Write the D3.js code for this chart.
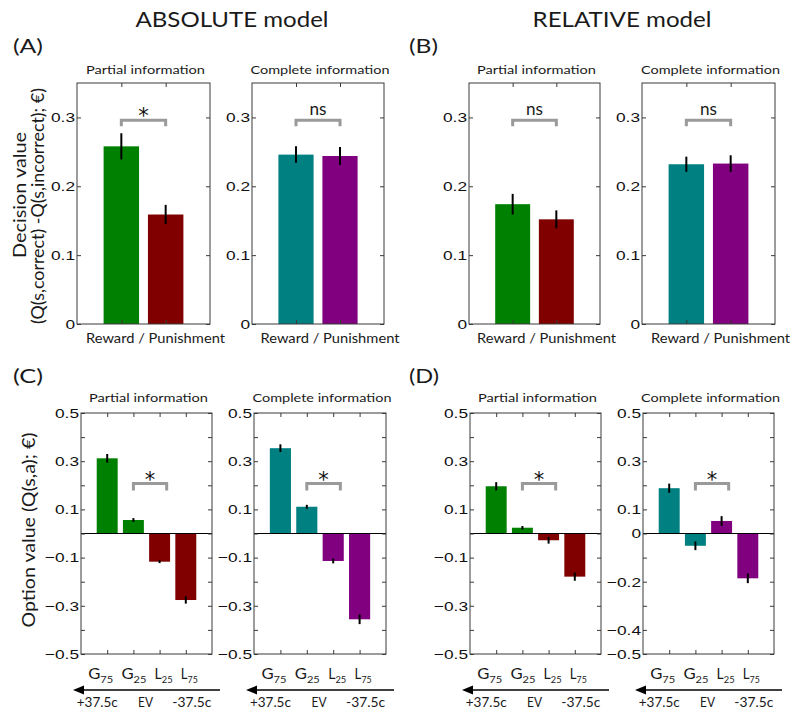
<!DOCTYPE html>
<html><head><meta charset="utf-8">
<script src="https://cdn.jsdelivr.net/npm/d3@7"></script>
<style>body{margin:0;background:#fff} svg{display:block}</style>
</head><body>
<script>
// ---------------- data ----------------
const dvCategories = ["Reward", "Punishment"];
const optCategories = [["G","75"],["G","25"],["L","25"],["L","75"]];
const evLabels = ["+37.5c", "EV", "-37.5c"];
const modelTitles = ["ABSOLUTE model", "RELATIVE model"];
const panelTitles = ["Partial information", "Complete information"];
const panelLetters = ["(A)", "(B)", "(C)", "(D)"];
const dvXLabel = "Reward / Punishment";
const dvYLabel = ["Decision value", "(Q(s,correct) -Q(s,incorrect); \u20ac)"];
const optYLabel = "Option value (Q(s,a); \u20ac)";

const absPartialDV = [0.258, 0.159];
const absPartialDVErr = [0.019, 0.014];
const absCompleteDV = [0.246, 0.244];
const absCompleteDVErr = [0.012, 0.013];
const relPartialDV = [0.174, 0.152];
const relPartialDVErr = [0.015, 0.013];
const relCompleteDV = [0.232, 0.233];
const relCompleteDVErr = [0.011, 0.012];

const absPartialOpt = [0.312, 0.056, -0.117, -0.276];
const absPartialOptErr = [0.018, 0.008, 0.006, 0.015];
const absCompleteOpt = [0.354, 0.111, -0.114, -0.356];
const absCompleteOptErr = [0.016, 0.008, 0.010, 0.020];
const relPartialOpt = [0.196, 0.024, -0.028, -0.179];
const relPartialOptErr = [0.017, 0.007, 0.014, 0.017];
const relCompleteOpt = [0.188, -0.051, 0.052, -0.186];
const relCompleteOptErr = [0.019, 0.018, 0.020, 0.020];

const dvTicks = [0, 0.1, 0.2, 0.3];
const optTicks = [-0.5, -0.4, -0.3, -0.2, -0.1, 0, 0.1, 0.2, 0.3, 0.4, 0.5];
const optTickLabelsStd = ["0.5", "0.3", "0.1", "-0.1", "-0.3", "-0.5"];
const optTickLabelsAlt = ["0.5", "0.3", "0.1", "0", "-0.2", "-0.4", "-0.5"];
const sigTop = ["*", "ns", "ns", "ns"];
const sigBottom = ["*", "*", "*", "*"];

// ---------------- styles ----------------
const partialColors = ["#008000", "#800000"];
const partialColorsOpt = ["#008000", "#008000", "#800000", "#800000"];
const completeColors = ["#008080", "#800080"];
const completeColorsOpt = ["#008080", "#008080", "#800080", "#800080"];
const TXT = "Lato, 'Open Sans', sans-serif";
const NUM = "'Liberation Sans', Arial, sans-serif";
const FRAME = "#3a3a3a";
const STRETCH = 1.28;
const catWidths = [25, 25, 18, 17];
const catStartOffsets = [-19, -12, -5, -5];

const svg = d3.select("body").append("svg").attr("width", 800).attr("height", 717)
  .style("background", "#fff");

function txt(str, x, y, fs, len, anchor = "middle", rot = false) {
  const t = svg.append("text")
    .attr("transform", rot ? `translate(${x},${y}) rotate(-90)` : `translate(${x},${y})`)
    .attr("text-anchor", anchor)
    .style("font-family", TXT).style("font-size", fs + "px")
    .attr("fill", "#1a1a1a")
    .text(str);
  if (len) t.attr("textLength", len).attr("lengthAdjust", "spacingAndGlyphs");
  return t;
}

function fmt(d) { return String(Math.round(d * 10) / 10); }

function panel(p) {
  const g = svg.append("g");
  const x = d3.scaleLinear().domain(p.xDomain).range([p.x0, p.x1]);
  const y = d3.scaleLinear().domain(p.yDomain).range([p.y1, p.y0]);
  const pos = p.values.map((d, i) => i + 1);
  const bw = x(0.8) - x(0);

  g.selectAll("rect.bar").data(p.values).join("rect").attr("class", "bar")
    .attr("x", (d, i) => x(i + 1) - bw / 2).attr("width", bw)
    .attr("y", d => Math.min(y(d), y(0))).attr("height", d => Math.abs(y(d) - y(0)))
    .attr("fill", (d, i) => p.colors[i]);

  g.selectAll("line.err").data(p.values).join("line").attr("class", "err")
    .attr("x1", (d, i) => x(i + 1)).attr("x2", (d, i) => x(i + 1))
    .attr("y1", (d, i) => y(d - p.errors[i])).attr("y2", (d, i) => y(d + p.errors[i]))
    .attr("stroke", "#000").attr("stroke-width", 2);

  if (p.zero) {
    g.append("line").attr("x1", p.x0).attr("x2", p.x1).attr("y1", y(0)).attr("y2", y(0))
      .attr("stroke", "#000").attr("stroke-width", 1);
  }

  g.append("rect").attr("x", p.x0).attr("y", p.y0).attr("width", p.x1 - p.x0).attr("height", p.y1 - p.y0)
    .attr("fill", "none").attr("stroke", FRAME).attr("stroke-width", 1);

  const left = g.append("g").attr("transform", `translate(${p.x0},0)`)
    .call(d3.axisLeft(y).tickValues(p.yTicks).tickSize(-4).tickPadding(2)
      .tickFormat(d => p.labels.includes(fmt(d)) ? fmt(d).replace("-", "\u2212") : ""));
  const right = g.append("g").attr("transform", `translate(${p.x1},0)`)
    .call(d3.axisRight(y).tickValues(p.yTicks).tickSize(-4).tickFormat(""));
  const top = g.append("g").attr("transform", `translate(0,${p.y0})`)
    .call(d3.axisTop(x).tickValues(pos).tickSize(-4).tickFormat(""));
  const bot = g.append("g").attr("transform", `translate(0,${p.y1})`)
    .call(d3.axisBottom(x).tickValues(pos).tickSize(-4).tickFormat(""));
  [left, right, top, bot].forEach(a => {
    a.select(".domain").remove();
    a.selectAll(".tick line").attr("stroke", FRAME);
  });
  left.selectAll(".tick text").attr("fill", "#111")
    .style("font-family", NUM).style("font-size", "13.5px")
    .each(function () {
      const w = this.getComputedTextLength();
      if (w > 0) d3.select(this).attr("textLength", w * STRETCH).attr("lengthAdjust", "spacingAndGlyphs");
    });

  // significance bracket
  const bx0 = x(p.bracket[0]), bx1 = x(p.bracket[1]), by = y(p.bracketY);
  g.append("path").attr("d", `M${bx0},${by + p.leg}V${by}H${bx1}V${by + p.leg}`)
    .attr("fill", "none").attr("stroke", "#9a9a9a").attr("stroke-width", 3);
  if (p.sig === "*") {
    g.append("text").attr("x", (bx0 + bx1) / 2).attr("y", by + 3).attr("text-anchor", "middle")
      .style("font-family", "'DejaVu Sans', sans-serif").style("font-size", "21px").attr("fill", "#111").text("*");
  } else {
    g.append("text").attr("x", (bx0 + bx1) / 2).attr("y", by - 5).attr("text-anchor", "middle")
      .style("font-family", TXT).style("font-size", "18px").attr("fill", "#1a1a1a")
      .attr("textLength", 17).attr("lengthAdjust", "spacingAndGlyphs").text(p.sig);
  }

  // title
  txt(p.title, (p.x0 + p.x1) / 2 + 2, p.titleY, 11.5, p.title.length > 19 ? 139 : 119);
  return { x, y };
}

// ---------------- layout ----------------
const topFrames = [[77, 210], [252, 384], [469, 600], [642, 775]];
const botFrames = [[81, 212], [254, 386], [470, 601], [643, 774]];
const topVals = [absPartialDV, absCompleteDV, relPartialDV, relCompleteDV];
const topErrs = [absPartialDVErr, absCompleteDVErr, relPartialDVErr, relCompleteDVErr];
const topCols = [partialColors, completeColors, partialColors, completeColors];
const botVals = [absPartialOpt, absCompleteOpt, relPartialOpt, relCompleteOpt];
const botErrs = [absPartialOptErr, absCompleteOptErr, relPartialOptErr, relCompleteOptErr];
const botCols = [partialColorsOpt, completeColorsOpt, partialColorsOpt, completeColorsOpt];

topFrames.forEach((f, i) => {
  panel({
    x0: f[0], x1: f[1], y0: 83, y1: 324, xDomain: [0, 3], yDomain: [0, 0.35],
    values: topVals[i], errors: topErrs[i], colors: topCols[i],
    yTicks: dvTicks, labels: dvTicks.map(fmt), zero: false,
    bracket: [1, 2], bracketY: 0.296, leg: 6, sig: sigTop[i],
    title: panelTitles[i % 2], titleY: 74
  });
  txt(dvXLabel, (f[0] + f[1]) / 2 + 12, 343, 12.5, 139);
});

botFrames.forEach((f, i) => {
  const s = panel({
    x0: f[0], x1: f[1], y0: 413, y1: 654, xDomain: [0, 5], yDomain: [-0.5, 0.5],
    values: botVals[i], errors: botErrs[i], colors: botCols[i],
    yTicks: optTicks, labels: i === 3 ? optTickLabelsAlt : optTickLabelsStd, zero: true,
    bracket: [2, 3.27], bracketY: 0.207, leg: 7, sig: sigBottom[i],
    title: panelTitles[i % 2], titleY: 402
  });
  // category labels with subscripts
  optCategories.forEach((c, j) => {
    const t = svg.append("text").attr("x", s.x(j + 1) + catStartOffsets[j]).attr("y", 679)
      .style("font-family", TXT).style("font-size", "15px").attr("fill", "#1a1a1a")
      .attr("textLength", catWidths[j]).attr("lengthAdjust", "spacingAndGlyphs");
    t.append("tspan").text(c[0]);
    t.append("tspan").attr("dy", 4).style("font-size", "10px").text(c[1]);
  });
  // arrow
  const ax0 = f[0] - 8, ax1 = f[1] + 8, ay = 690;
  svg.append("line").attr("x1", ax0 + 8).attr("x2", ax1).attr("y1", ay).attr("y2", ay)
    .attr("stroke", "#000").attr("stroke-width", 1.5);
  svg.append("path").attr("d", `M${ax0},${ay}L${ax0 + 11},${ay - 4.5}L${ax0 + 11},${ay + 4.5}Z`).attr("fill", "#000");
  txt(evLabels[0], s.x(1) - 10, 707, 13, 41);
  txt(evLabels[1], (f[0] + f[1]) / 2 - 1, 707, 13, 15);
  txt(evLabels[2], s.x(4) + 6, 707, 13, 39);
});

// titles and letters
txt(modelTitles[0], 232, 27, 22, 193);
txt(modelTitles[1], 622, 27, 22, 179);
txt(panelLetters[0], 13, 53, 20, 30, "start");
txt(panelLetters[1], 409, 53, 20, 29, "start");
txt(panelLetters[2], 13, 383, 20, 30, "start");
txt(panelLetters[3], 409, 383, 20, 30, "start");

// y labels
txt(dvYLabel[0], 26, 195, 17, 126, "middle", true);
txt(dvYLabel[1], 44, 206, 17, 236, "middle", true);
txt(optYLabel, 35, 530, 17, 195, "middle", true);
</script>
</body></html>
